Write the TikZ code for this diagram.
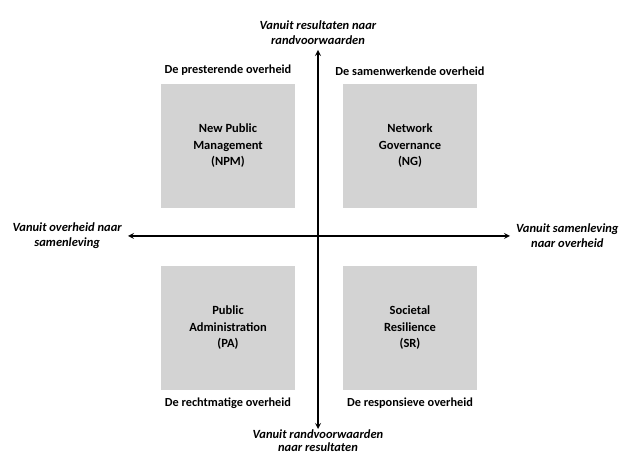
\documentclass[tikz,border=0pt]{standalone}
\usepackage{fontspec}
\setmainfont{Carlito}
\usetikzlibrary{arrows, positioning}
\definecolor{boxgray}{HTML}{D3D3D3}
\tikzstyle{quadrant} = [rectangle, minimum width=134pt, minimum height=124pt, align=center, fill=boxgray, font=\bfseries\fontsize{12.5}{16.5}\selectfont]
\tikzstyle{govlabel} = [font=\bfseries\fontsize{12.3}{14}\selectfont, inner sep=0pt]
\tikzstyle{axislabel} = [align=center, font=\bfseries\itshape\fontsize{12.5}{15}\selectfont, inner sep=0pt]
\tikzstyle{arrow} = [line width=1.6pt, <->, >=stealth]

\begin{document}
\begin{tikzpicture}[x=1pt, y=1pt]
\useasboundingbox (-318,236) rectangle (310,-218);

\coordinate (origin) at (0,0);

\node (npm) [quadrant] at (-90,90) {New Public\\Management\\(NPM)};
\node (ng) [quadrant] at (92,90) {Network\\Governance\\(NG)};
\node (pa) [quadrant] at (-90,-92) {Public\\Administration\\(PA)};
\node (sr) [quadrant] at (92,-92) {Societal\\Resilience\\(SR)};

\node (presterend) [govlabel, above=8pt of npm] {De presterende overheid};
\node (samenwerkend) [govlabel, above=8pt of ng] {De samenwerkende overheid};
\node (rechtmatig) [govlabel, below=7pt of pa] {De rechtmatige overheid};
\node (responsief) [govlabel, below=7pt of sr] {De responsieve overheid};

\coordinate (top) at (0,186);
\coordinate (bottom) at (0,-193);
\coordinate (left) at (-190,0);
\coordinate (right) at (192,0);

\node (resultaten) [axislabel, above=5pt of top] {Vanuit resultaten naar\\randvoorwaarden};
\node (randvoorwaarden) [axislabel, below=1pt of bottom, font=\bfseries\itshape\fontsize{12.5}{12.5}\selectfont] {Vanuit randvoorwaarden\\naar resultaten};
\node (overheid) [axislabel, left=6pt of left] {Vanuit overheid naar\\samenleving};
\node (samenleving) [axislabel, right=6pt of right] {Vanuit samenleving\\naar overheid};

\draw [arrow] (bottom) -- (top);
\draw [arrow] (left) -- (right);

\end{tikzpicture}
\end{document}
